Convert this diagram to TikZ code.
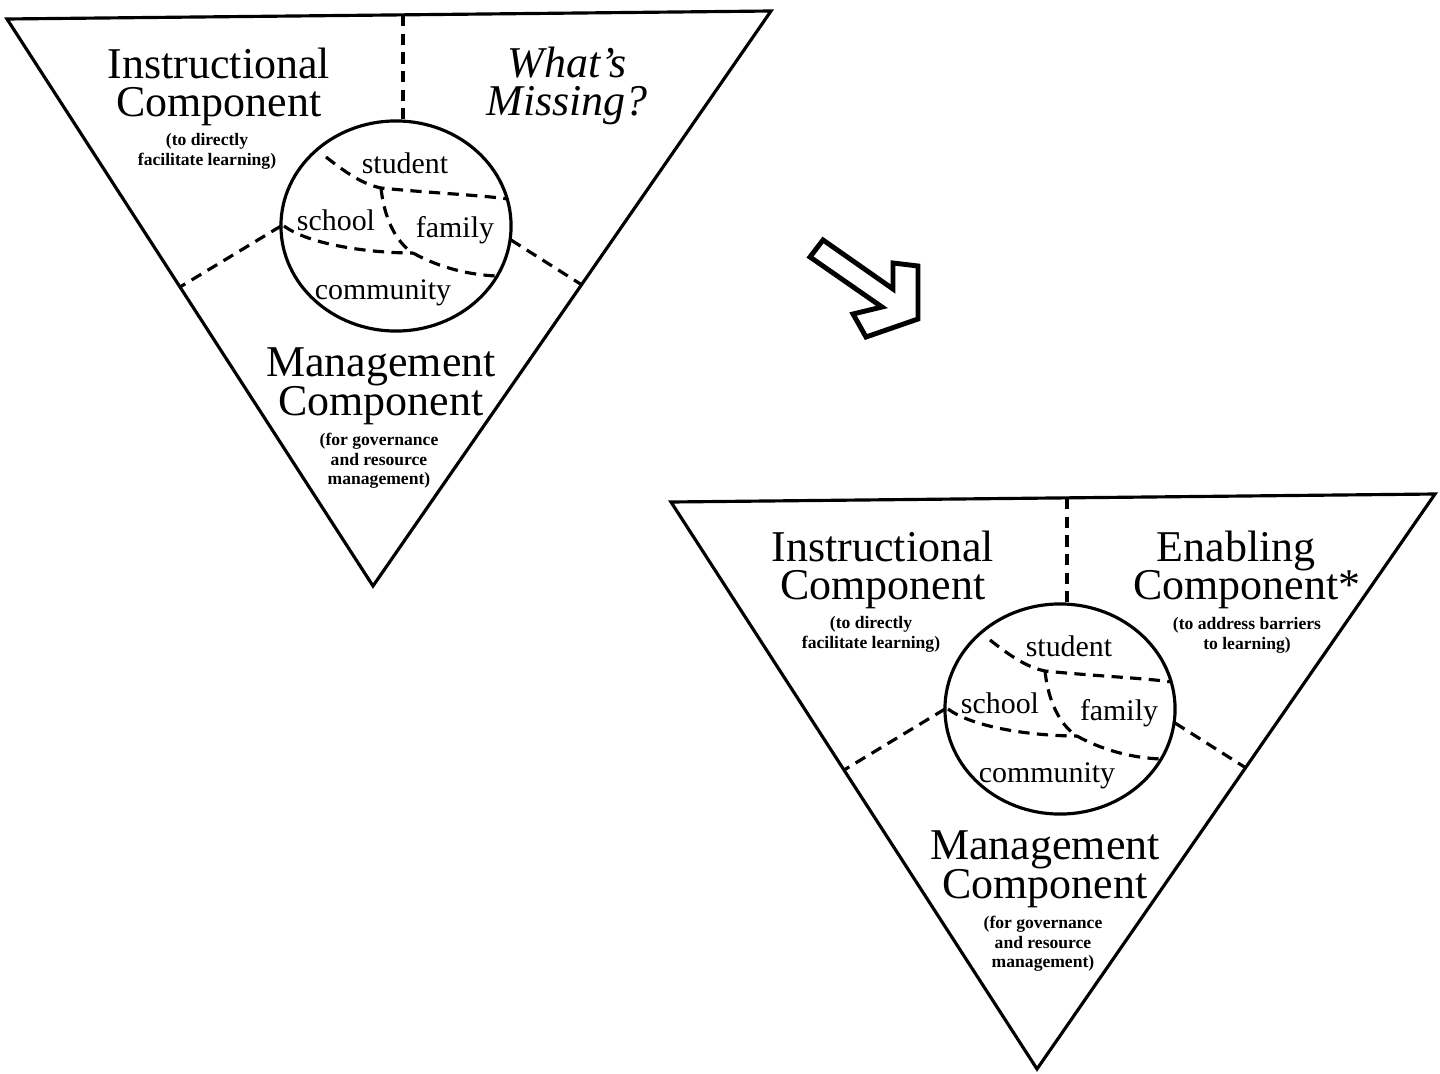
\documentclass[tikz,border=0pt]{standalone}
\usepackage{fontspec}
\setmainfont{Liberation Serif}

\tikzset{
  outline/.style={line width=0.9pt, line join=miter},
  divider/.style={line width=0.9pt, dash pattern=on 3.2pt off 2.1pt},
  heading/.style={font=\fontsize{12.5}{11}\selectfont, align=center, inner sep=0pt},
  query/.style={font=\fontsize{12.5}{11}\selectfont\itshape, align=center, inner sep=0pt},
  remark/.style={font=\fontsize{5}{5.6}\selectfont\bfseries, align=center, inner sep=0pt},
  member/.style={font=\fontsize{8.5}{9}\selectfont, inner sep=0pt},
  model/.pic={
    % Draw the triangle and the circle
    \draw [outline] (7,19) -- (771,11) -- (373,586) -- cycle;
    \draw [outline] (396,226) ellipse [x radius=1.15cm, y radius=1.05cm];

    % Dashed borders between the components
    \draw [divider] (403,15) -- (403,121);
    \draw [divider] (281,226) -- (180,287);
    \draw [divider] (511,240) -- (582,285);

    % Dashed borders inside the circle
    \draw [divider] (326,157) .. controls (345,172) and (362,184) .. (381,188)
                             .. controls (430,193) and (480,195) .. (508,199);
    \draw [divider] (381,188) .. controls (385,225) and (400,245) .. (413,253)
                             .. controls (440,268) and (470,275) .. (497,276);
    \draw [divider] (284,226) .. controls (310,245) and (370,253) .. (413,253);

    % Then add the labels
    \node [heading] (-instr) at (219,87) {Instructional\\Component};
    \node [remark] (-instrnote) at (207,151) {(to directly\\facilitate learning)};
    \node [member] (-student) at (405,163) {student};
    \node [member] (-school) at (336,220) {school};
    \node [member] (-family) at (455,230) {family};
    \node [member] (-community) at (383,293) {community};
    \node [heading] (-mgmt) at (381,386) {Management\\Component};
    \node [remark] (-mgmtnote) at (379,461) {(for governance\\and resource\\management)};
  }
}

\begin{document}
\begin{tikzpicture}[x=0.01cm, y=-0.01cm]
	\useasboundingbox (0,0) rectangle (1440,1073);

	% The first model, with a gap
	\pic (before) at (0,0) {model};
	\node [query] (missing) at (567,86) {What’s\\Missing?};

	% The arrow between the two
	\draw [line width=1.4pt, line join=miter] (823,240) -- (893,289) -- (893,263)
		-- (918,266) -- (918,319) -- (866,337) -- (853,314) -- (882,307)
		-- (810,257) -- cycle;

	% The second model, with the gap filled
	\begin{scope}[shift={(664,483)}]
		\pic (after) at (0,0) {model};
		\node [heading] (enabling) at (572,87) {Enabling\\Component\rlap{*}};
		\node [remark] (enablingnote) at (583,152) {(to address barriers\\to learning)};
	\end{scope}
\end{tikzpicture}
\end{document}
